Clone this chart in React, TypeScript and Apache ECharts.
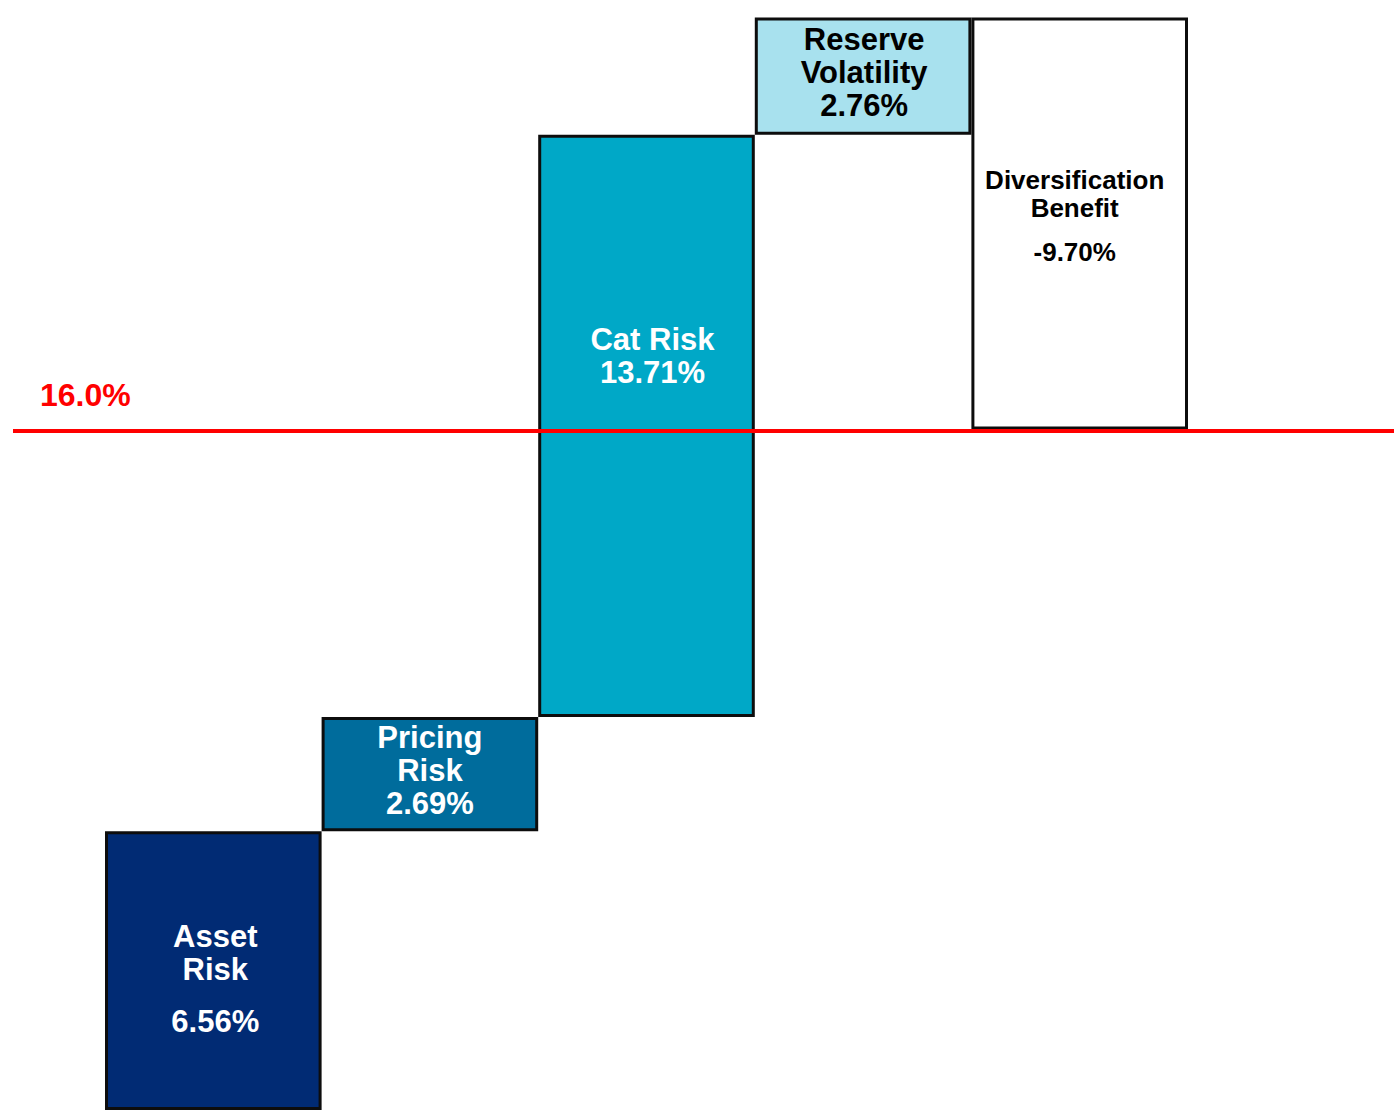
import React, { useEffect, useRef } from "react";
import * as echarts from "echarts";

// ---- data ----
const categories = ["Asset\nRisk", "Pricing\nRisk", "Cat Risk", "Reserve\nVolatility", "Diversification\nBenefit"];
const changes = [6.56, 2.69, 13.71, 2.76, -9.7];
const thresholdValue = 16.0;
const thresholdLabel = "16.0%";

// ---- styles ----
const barColors = ["#012b74", "#006c9c", "#00a8c7", "#a8e1ee", "#ffffff"];
const textColors = ["#ffffff", "#ffffff", "#ffffff", "#000000", "#000000"];
const textKeys = ["t", "t", "t", "t", "d"];
const spacerKeys = ["s", null, null, null, "ds"];
const labelOffsets = [[2, 8], [0, -4], [6, -70], [1, -4], [-5, -7]];

const FONT = "'Liberation Sans', Arial, Helvetica, sans-serif";
const Y_MAX = 26.13;

export default function App() {
  const ref = useRef<HTMLDivElement>(null);
  useEffect(() => {
    if (!ref.current) return;
    const chart = echarts.init(ref.current, undefined, { renderer: "svg" });

    const bases: number[] = [];
    const heights: number[] = [];
    let cum = 0;
    changes.forEach((d) => {
      bases.push(d >= 0 ? cum : cum + d);
      heights.push(Math.abs(d));
      cum += d;
    });

    const fmtLabel = (i: number) => {
      const k = textKeys[i];
      const lines = categories[i].split("\n").map((l) => `{${k}|${l}}`);
      if (spacerKeys[i]) lines.push(`{${spacerKeys[i]}| }`);
      lines.push(`{${k}|${changes[i].toFixed(2)}%}`);
      return lines.join("\n");
    };

    const rich = {
      t: { fontSize: 31, lineHeight: 33, fontWeight: "bold", fontFamily: FONT },
      d: { fontSize: 26, lineHeight: 28, fontWeight: "bold", fontFamily: FONT },
      s: { fontSize: 1, lineHeight: 19 },
      ds: { fontSize: 1, lineHeight: 16 },
    };

    const option: any = {
      animation: false,
      grid: [
        { left: 105, right: 206, top: 0, bottom: -3 },
        { left: 13, right: 0, top: 0, bottom: -3 },
      ],
      xAxis: [
        { type: "category", gridIndex: 0, data: categories, show: false },
        { type: "value", gridIndex: 1, min: 0, max: 1, show: false },
      ],
      yAxis: [
        { type: "value", gridIndex: 0, min: 0, max: Y_MAX, show: false },
        { type: "value", gridIndex: 1, min: 0, max: Y_MAX, show: false },
      ],
      series: [
        {
          type: "bar",
          stack: "w",
          xAxisIndex: 0,
          yAxisIndex: 0,
          barCategoryGap: "0%",
          silent: true,
          itemStyle: { color: "transparent" },
          data: bases,
        },
        {
          type: "bar",
          stack: "w",
          xAxisIndex: 0,
          yAxisIndex: 0,
          barCategoryGap: "0%",
          silent: true,
          data: heights.map((h, i) => ({
            value: h,
            itemStyle: { color: barColors[i], borderColor: "#0d0d0d", borderWidth: 3 },
            label: {
              show: true,
              position: "inside",
              offset: labelOffsets[i],
              color: textColors[i],
              align: "center",
              formatter: () => fmtLabel(i),
              rich: Object.fromEntries(
                Object.entries(rich).map(([k, v]) => [k, { ...v, color: textColors[i] }])
              ),
            },
          })),
        },
        {
          type: "line",
          xAxisIndex: 1,
          yAxisIndex: 1,
          silent: true,
          showSymbol: false,
          lineStyle: { width: 0 },
          data: [
            [0, thresholdValue],
            [1, thresholdValue],
          ],
          markLine: {
            silent: true,
            symbol: ["none", "none"],
            lineStyle: { color: "#ff0000", width: 4, type: "solid" },
            label: {
              show: true,
              position: "insideStartTop",
              distance: [27, 19],
              formatter: thresholdLabel,
              color: "#ff0000",
              fontSize: 32,
              fontWeight: "bold",
              fontFamily: FONT,
            },
            data: [{ yAxis: thresholdValue }],
          },
        },
      ],
    };
    chart.setOption(option);
    return () => chart.dispose();
  }, []);

  return (
    <div
      ref={ref}
      style={{ position: "absolute", left: 0, top: 0, width: 1394, height: 1110, background: "#ffffff" }}
    />
  );
}
